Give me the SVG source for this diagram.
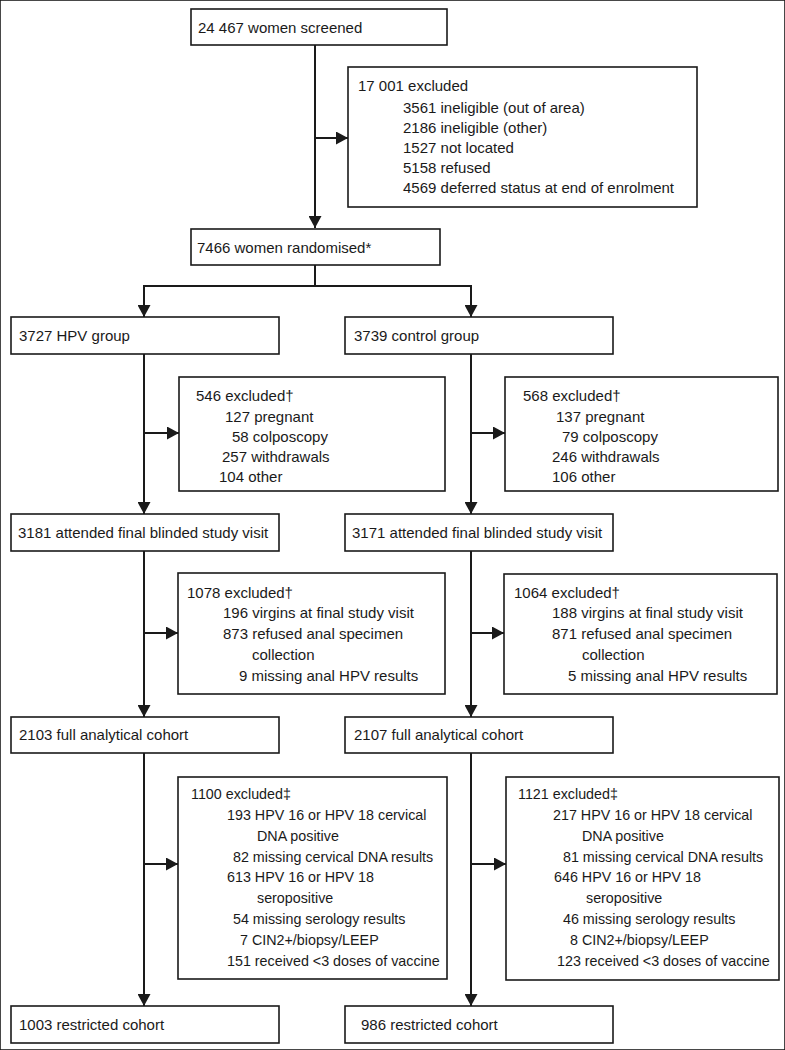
<svg xmlns="http://www.w3.org/2000/svg" width="785" height="1050" viewBox="0 0 785 1050">
<style>
rect{fill:#fff;stroke:#1a1a1a;stroke-width:1.6}
text{font-family:"Liberation Sans",Arial,sans-serif;font-size:15px;fill:#1a1a1a}
.sm text{font-size:14.3px}
.c line{stroke:#1a1a1a;stroke-width:2}
.a{marker-end:url(#ah)}
</style>
<defs>
<marker id="ah" markerUnits="userSpaceOnUse" markerWidth="13" markerHeight="13" refX="12" refY="6.5" orient="auto"><path d="M0,0 L12,6.5 L0,13 z" fill="#1a1a1a"/></marker>
</defs>
<rect width="785" height="1050" fill="#fff" stroke="none"/>
<g class="c">
<line x1="315" y1="45" x2="315" y2="228" class="a"/>
<line x1="315" y1="138" x2="348" y2="138" class="a"/>
<line x1="315" y1="265" x2="315" y2="286"/>
<line x1="143" y1="286" x2="472" y2="286"/>
<line x1="144" y1="286" x2="144" y2="317" class="a"/>
<line x1="471" y1="286" x2="471" y2="317" class="a"/>
<line x1="144" y1="354" x2="144" y2="514" class="a"/>
<line x1="144" y1="433" x2="179" y2="433" class="a"/>
<line x1="471" y1="354" x2="471" y2="514" class="a"/>
<line x1="471" y1="433" x2="505" y2="433" class="a"/>
<line x1="144" y1="551" x2="144" y2="717" class="a"/>
<line x1="144" y1="633" x2="178" y2="633" class="a"/>
<line x1="471" y1="551" x2="471" y2="717" class="a"/>
<line x1="471" y1="633" x2="504" y2="633" class="a"/>
<line x1="144" y1="753" x2="144" y2="1006" class="a"/>
<line x1="144" y1="864" x2="178" y2="864" class="a"/>
<line x1="471" y1="753" x2="471" y2="1006" class="a"/>
<line x1="471" y1="864" x2="506" y2="864" class="a"/>
</g>
<g id="screened"><rect x="191" y="9" width="256" height="36"/><text x="198" y="33">24 467 women screened</text></g>
<g id="excluded1"><rect x="348" y="67" width="349" height="140"/>
<text x="358" y="91">17 001 excluded</text>
<text x="403" y="113">3561 ineligible (out of area)</text>
<text x="403" y="133">2186 ineligible (other)</text>
<text x="403" y="153">1527 not located</text>
<text x="403" y="173">5158 refused</text>
<text x="403" y="193">4569 deferred status at end of enrolment</text></g>
<g id="randomised"><rect x="191" y="229" width="249" height="36"/><text x="197" y="253">7466 women randomised*</text></g>
<g id="hpv"><rect x="11" y="317" width="268" height="37"/><text x="19" y="341">3727 HPV group</text></g>
<g id="control"><rect x="345" y="317" width="268" height="37"/><text x="354" y="341">3739 control group</text></g>
<g id="exc546"><rect x="179" y="377" width="266" height="114"/>
<text x="196" y="401">546 excluded†</text>
<text x="225" y="422">127 pregnant</text>
<text x="232" y="442">58 colposcopy</text>
<text x="222" y="462">257 withdrawals</text>
<text x="219" y="482">104 other</text></g>
<g id="exc568"><rect x="505" y="377" width="273" height="114"/>
<text x="523" y="401">568 excluded†</text>
<text x="556" y="422">137 pregnant</text>
<text x="562" y="442">79 colposcopy</text>
<text x="552" y="462">246 withdrawals</text>
<text x="552" y="482">106 other</text></g>
<g id="att3181"><rect x="11" y="514" width="268" height="37"/><text x="18" y="538">3181 attended final blinded study visit</text></g>
<g id="att3171"><rect x="345" y="514" width="268" height="37"/><text x="352" y="538">3171 attended final blinded study visit</text></g>
<g id="exc1078"><rect x="178" y="573" width="267" height="121"/>
<text x="187" y="598">1078 excluded†</text>
<text x="223" y="618">196 virgins at final study visit</text>
<text x="223" y="639">873 refused anal specimen</text>
<text x="252" y="660">collection</text>
<text x="239" y="681">9 missing anal HPV results</text></g>
<g id="exc1064"><rect x="504" y="574" width="273" height="120"/>
<text x="514" y="598">1064 excluded†</text>
<text x="552" y="618">188 virgins at final study visit</text>
<text x="552" y="639">871 refused anal specimen</text>
<text x="582" y="660">collection</text>
<text x="568" y="681">5 missing anal HPV results</text></g>
<g id="full2103"><rect x="11" y="717" width="268" height="36"/><text x="19" y="740">2103 full analytical cohort</text></g>
<g id="full2107"><rect x="345" y="717" width="268" height="36"/><text x="354" y="740">2107 full analytical cohort</text></g>
<g id="exc1100" class="sm"><rect x="178" y="777" width="269" height="202"/>
<text x="191" y="799">1100 excluded‡</text>
<text x="227" y="820">193 HPV 16 or HPV 18 cervical</text>
<text x="257" y="841">DNA positive</text>
<text x="233" y="862">82 missing cervical DNA results</text>
<text x="227" y="882">613 HPV 16 or HPV 18</text>
<text x="257" y="903">seropositive</text>
<text x="233" y="924">54 missing serology results</text>
<text x="240" y="945">7 CIN2+/biopsy/LEEP</text>
<text x="227" y="966">151 received &lt;3 doses of vaccine</text></g>
<g id="exc1121" class="sm"><rect x="506" y="777" width="273" height="203"/>
<text x="518" y="799">1121 excluded‡</text>
<text x="553" y="820">217 HPV 16 or HPV 18 cervical</text>
<text x="582" y="841">DNA positive</text>
<text x="563" y="862">81 missing cervical DNA results</text>
<text x="554" y="882">646 HPV 16 or HPV 18</text>
<text x="586" y="903">seropositive</text>
<text x="563" y="924">46 missing serology results</text>
<text x="570" y="945">8 CIN2+/biopsy/LEEP</text>
<text x="557" y="966">123 received &lt;3 doses of vaccine</text></g>
<g id="restr1003"><rect x="11" y="1006" width="268" height="37"/><text x="19" y="1030">1003 restricted cohort</text></g>
<g id="restr986"><rect x="345" y="1006" width="268" height="37"/><text x="361" y="1030">986 restricted cohort</text></g>
</svg>
